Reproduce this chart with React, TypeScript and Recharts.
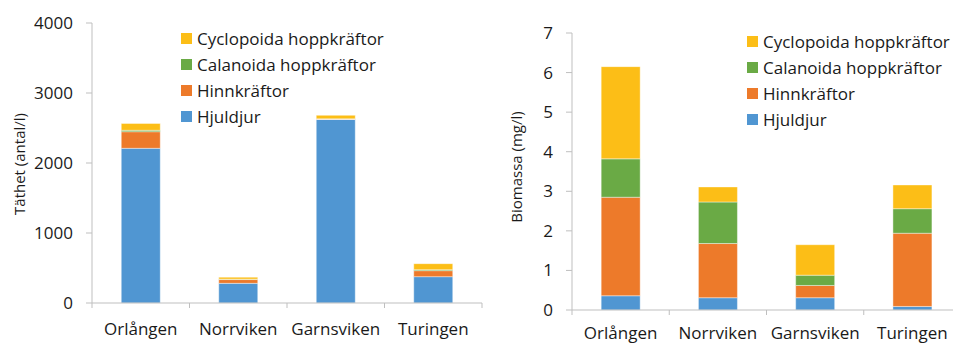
import { BarChart, Bar, XAxis, YAxis } from "recharts"

// Zooplankton per lake: density (left) and biomass (right)
const sites = ["Orlången", "Norrviken", "Garnsviken", "Turingen"]
const groups = ["Hjuldjur", "Hinnkräftor", "Calanoida hoppkräftor", "Cyclopoida hoppkräftor"]
const colors = ["#5096D2", "#ED7A2A", "#6AAA45", "#FCBE17"]

// antal/l
const hjuldjurTathet = [2210, 281, 2622, 376]
const hinnkraftorTathet = [237, 54, 6, 86]
const calanoidaTathet = [20, 6, 3, 14]
const cyclopoidaTathet = [98, 28, 50, 86]

// mg/l
const hjuldjurBiomassa = [0.36, 0.31, 0.31, 0.09]
const hinnkraftorBiomassa = [2.49, 1.37, 0.31, 1.85]
const calanoidaBiomassa = [0.97, 1.05, 0.26, 0.62]
const cyclopoidaBiomassa = [2.33, 0.38, 0.77, 0.6]

const densityTicks = [0, 1000, 2000, 3000, 4000]
const biomassTicks = [0, 1, 2, 3, 4, 5, 6, 7]

const buildRows = (series: number[][]) =>
  sites.map((site, i) => {
    const row: Record<string, string | number> = { site }
    groups.forEach((g, j) => {
      row[g] = series[j][i]
    })
    return row
  })

const densityData = buildRows([hjuldjurTathet, hinnkraftorTathet, calanoidaTathet, cyclopoidaTathet])
const biomassData = buildRows([hjuldjurBiomassa, hinnkraftorBiomassa, calanoidaBiomassa, cyclopoidaBiomassa])

const FONT = "'Open Sans', sans-serif"
const AXIS = "#bfbfbf"
const TEXT = "#1a1a1a"

// category label plus Excel-style tick marks between the categories
function SiteTick(props: any) {
  const { x, y, payload, index, visibleTicksCount, labelDy } = props
  const half = payload.offset ?? 0
  const last = index === visibleTicksCount - 1
  return (
    <g>
      <line x1={x - half} x2={x - half} y1={y - 8} y2={y - 3} stroke={AXIS} />
      {last && <line x1={x + half} x2={x + half} y1={y - 8} y2={y - 3} stroke={AXIS} />}
      <text x={x} y={y + labelDy} textAnchor="middle" fontSize={17} fill={TEXT} fontFamily={FONT}>
        {payload.value}
      </text>
    </g>
  )
}

function GroupLegend({ left, top }: { left: number; top: number }) {
  const rows = [...groups].reverse()
  return (
    <div
      style={{
        position: "absolute",
        left,
        top,
        fontFamily: FONT,
        fontSize: 17,
        color: TEXT,
        whiteSpace: "nowrap"
      }}
    >
      {rows.map((g) => (
        <div key={g} style={{ display: "flex", alignItems: "center", height: 26 }}>
          <span
            style={{
              width: 11,
              height: 11,
              background: colors[groups.indexOf(g)],
              marginRight: 5,
              display: "inline-block"
            }}
          />
          {g}
        </div>
      ))}
    </div>
  )
}

function AxisTitle({ text, x, y }: { text: string; x: number; y: number }) {
  return (
    <svg width={60} height={345} style={{ position: "absolute", left: 0, top: 0, overflow: "visible" }}>
      <text
        x={x}
        y={y}
        transform={`rotate(-90, ${x}, ${y})`}
        textAnchor="middle"
        dominantBaseline="central"
        fontSize={15}
        fill={TEXT}
        fontFamily={FONT}
      >
        {text}
      </text>
    </svg>
  )
}

type PanelProps = {
  data: Record<string, string | number>[]
  ticks: number[]
  width: number
  top: number
  bottom: number
  labelDy: number
}

function Panel({ data, ticks, width, top, bottom, labelDy }: PanelProps) {
  return (
    <BarChart
      width={width}
      height={345}
      data={data}
      margin={{ top, right: 1, bottom: 0, left: 0 }}
      barCategoryGap="30%"
    >
      <XAxis
        dataKey="site"
        height={bottom}
        stroke={AXIS}
        tickLine={false}
        interval={0}
        tick={<SiteTick labelDy={labelDy} />}
      />
      <YAxis
        width={92}
        domain={[ticks[0], ticks[ticks.length - 1]]}
        ticks={ticks}
        interval={0}
        stroke={AXIS}
        tickSize={6}
        tickMargin={13}
        tick={{ fontSize: 17, fill: TEXT, fontFamily: FONT }}
      />
      {groups.map((g, i) => (
        <Bar
          key={g}
          dataKey={g}
          stackId="a"
          fill={colors[i]}
          stroke="rgba(255,255,255,0.55)"
          strokeWidth={0.75}
          isAnimationActive={false}
        />
      ))}
    </BarChart>
  )
}

export default function App() {
  return (
    <div
      style={{
        position: "absolute",
        left: 0,
        top: 0,
        width: 953,
        height: 345,
        overflow: "hidden",
        background: "#fff"
      }}
    >
      <div style={{ position: "absolute", left: 0, top: 0, width: 483, height: 345 }}>
        <Panel data={densityData} ticks={densityTicks} width={483} top={23} bottom={42} labelDy={24} />
        <AxisTitle text="Täthet (antal/l)" x={19} y={164} />
        <GroupLegend left={181} top={25} />
      </div>
      <div style={{ position: "absolute", left: 480, top: 0, width: 482, height: 345 }}>
        <Panel data={biomassData} ticks={biomassTicks} width={482} top={33} bottom={35} labelDy={21} />
        <AxisTitle text="Biomassa (mg/l)" x={36} y={167} />
        <GroupLegend left={267} top={28} />
      </div>
    </div>
  )
}
